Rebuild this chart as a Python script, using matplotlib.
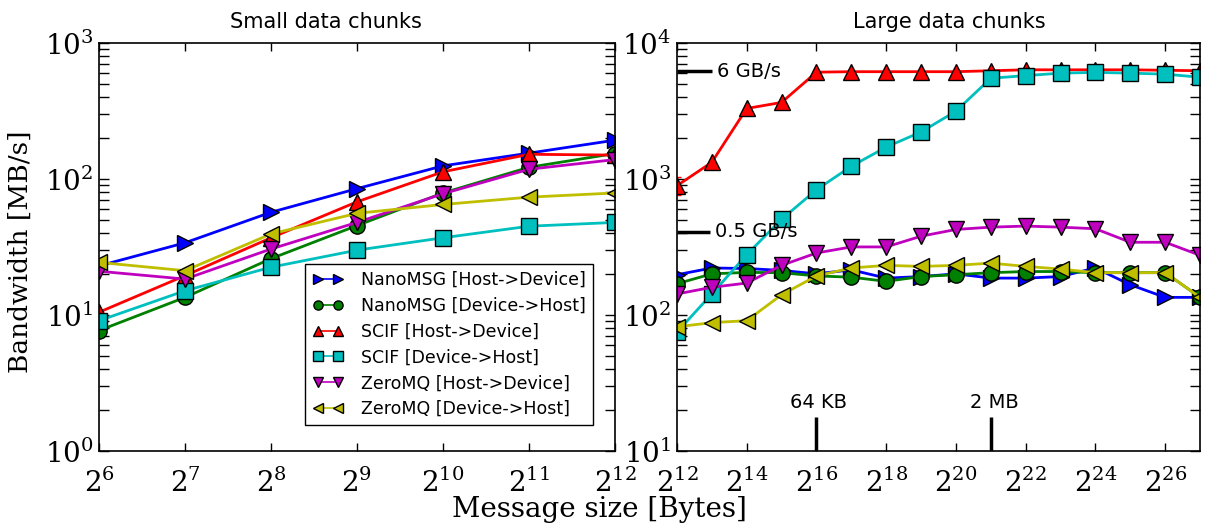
import numpy as np
import matplotlib
matplotlib.use("Agg")
import matplotlib.pyplot as plt

plt.rcParams['font.family'] = 'DejaVu Sans'
plt.rcParams['mathtext.fontset'] = 'dejavuserif'

# small chunks: message size 2^6 .. 2^12 bytes, bandwidth MB/s
small_exp = [6, 7, 8, 9, 10, 11, 12]
small_nano_h2d = [23, 34, 57, 85, 125, 155, 193]
small_nano_d2h = [7.7, 13.5, 26, 45.5, 79, 122, 154]
small_scif_h2d = [10.5, 19.5, 37, 68, 113, 152, 150]
small_scif_d2h = [9.1, 15.1, 22.5, 30, 37, 45, 48]
small_zmq_h2d = [21, 18.4, 30.6, 48, 78, 118, 139]
small_zmq_d2h = [24.4, 21.2, 39.5, 56, 65, 73.6, 79]

# large chunks: 2^12 .. 2^27 bytes
large_exp = list(range(12, 28))
large_nano_h2d = [198, 222, 220, 213, 201, 215, 187, 192, 201, 187, 187, 192, 222, 167, 135, 135]
large_nano_d2h = [170, 201, 206, 205, 194, 190, 177, 192, 198, 205, 209, 209, 205, 205, 205, 135]
large_scif_h2d = [893, 1328, 3300, 3656, 6100, 6150, 6150, 6150, 6150, 6250, 6350, 6350, 6350, 6350, 6300, 6250]
large_scif_d2h = [75, 143, 278, 506, 834, 1241, 1717, 2218, 3155, 5506, 5755, 6000, 6080, 6000, 5900, 5600]
large_zmq_h2d = [143, 160, 172, 232, 286, 317, 317, 380, 426, 443, 451, 443, 431, 343, 343, 275]
large_zmq_d2h = [82, 88, 91, 141, 194, 222, 232, 228, 232, 241, 228, 218, 205, 205, 205, 135]
scif_h2d_err_first = [[130], [150]]

labels = ['NanoMSG [Host->Device]', 'NanoMSG [Device->Host]',
          'SCIF [Host->Device]', 'SCIF [Device->Host]',
          'ZeroMQ [Host->Device]', 'ZeroMQ [Device->Host]']
colors = ['#0000ff', '#008000', '#ff0000', '#00bfbf', '#bf00bf', '#bfbf00']
markers = ['>', 'o', '^', 's', 'v', '<']

small = [small_nano_h2d, small_nano_d2h, small_scif_h2d, small_scif_d2h, small_zmq_h2d, small_zmq_d2h]
large = [large_nano_h2d, large_nano_d2h, large_scif_h2d, large_scif_d2h, large_zmq_h2d, large_zmq_d2h]

fig = plt.figure(figsize=(12.11, 5.24), dpi=100)
ax1 = fig.add_axes([0.0818, 0.139, 0.426, 0.779])
ax2 = fig.add_axes([0.559, 0.139, 0.432, 0.779])

def style(ax, exps):
  ax.set_xscale('log', base=2)
  ax.set_yscale('log')
  ax.set_xticks([2.0 ** e for e in exps])
  ax.set_xticklabels([r'$2^{%d}$' % e for e in exps])
  ax.tick_params(which='both', direction='in', top=True, right=True)
  ax.tick_params(axis='y', which='both', length=7, width=1, labelsize=20, pad=4)
  ax.tick_params(axis='x', which='major', length=6, width=1, labelsize=20, pad=13)
  ax.tick_params(axis='x', which='minor', length=0)
  for s in ax.spines.values():
    s.set_linewidth(1.2)
  for t in ax.get_yticklabels() + ax.get_xticklabels():
    t.set_fontfamily('DejaVu Serif')

for ys, c, m, lab in zip(small, colors, markers, labels):
  ax1.plot([2.0 ** e for e in small_exp], ys, color=c, marker=m, markersize=11,
           markeredgecolor='black', markeredgewidth=1, linewidth=2, label=lab)

for ys, c, m in zip(large, colors, markers):
  ax2.plot([2.0 ** e for e in large_exp], ys, color=c, marker=m, markersize=11,
           markeredgecolor='black', markeredgewidth=1, linewidth=2)
ax2.errorbar([2.0 ** large_exp[0]], [large_scif_h2d[0]], yerr=scif_h2d_err_first,
             color='#ff0000', linewidth=0, elinewidth=1, capsize=3, zorder=1)

style(ax1, small_exp)
ax1.set_xlim(2 ** 6, 2 ** 12)
ax1.set_ylim(1, 1000)

style(ax2, list(range(12, 27, 2)))
ax2.set_xlim(2 ** 12, 2 ** 27)
ax2.set_ylim(10, 10000)

# reference marks
ax2.plot([2 ** 12, 2 ** 13], [6200, 6200], color='black', linewidth=2.5, solid_capstyle='butt')
ax2.text(2 ** 13.15, 6200, '6 GB/s', fontsize=14, va='center', ha='left')
ax2.plot([2 ** 12, 2 ** 12.95], [410, 410], color='black', linewidth=2.5, solid_capstyle='butt')
ax2.text(2 ** 13.1, 410, '0.5 GB/s', fontsize=14, va='center', ha='left')
ax2.plot([2 ** 16, 2 ** 16], [10, 17.9], color='black', linewidth=2.5, solid_capstyle='butt')
ax2.text(2 ** 16.05, 19.3, '64 KB', fontsize=14, va='bottom', ha='center')
ax2.plot([2 ** 21, 2 ** 21], [10, 17.9], color='black', linewidth=2.5, solid_capstyle='butt')
ax2.text(2 ** 21.1, 19.3, '2 MB', fontsize=14, va='bottom', ha='center')

leg = ax1.legend(loc='lower right', bbox_to_anchor=(0.957, 0.064), borderaxespad=0,
                 fontsize=12.5, numpoints=2, markerscale=0.6, handlelength=1.8,
                 handletextpad=1.0, fancybox=False, framealpha=1, edgecolor='black',
                 labelspacing=0.45)
leg.get_frame().set_linewidth(1)
for h in leg.get_lines():
  h.set_linewidth(1.2)

fig.text(0.269, 0.958, 'Small data chunks', fontsize=15, ha='center', va='center')
fig.text(0.784, 0.958, 'Large data chunks', fontsize=15, ha='center', va='center')
fig.text(0.495, 0.028, 'Message size [Bytes]', fontsize=20, ha='center', va='center', family='DejaVu Serif')
fig.text(0.017, 0.52, 'Bandwidth [MB/s]', fontsize=19, ha='center', va='center', rotation=90, family='DejaVu Serif')

fig.savefig('out.png', dpi=100)
